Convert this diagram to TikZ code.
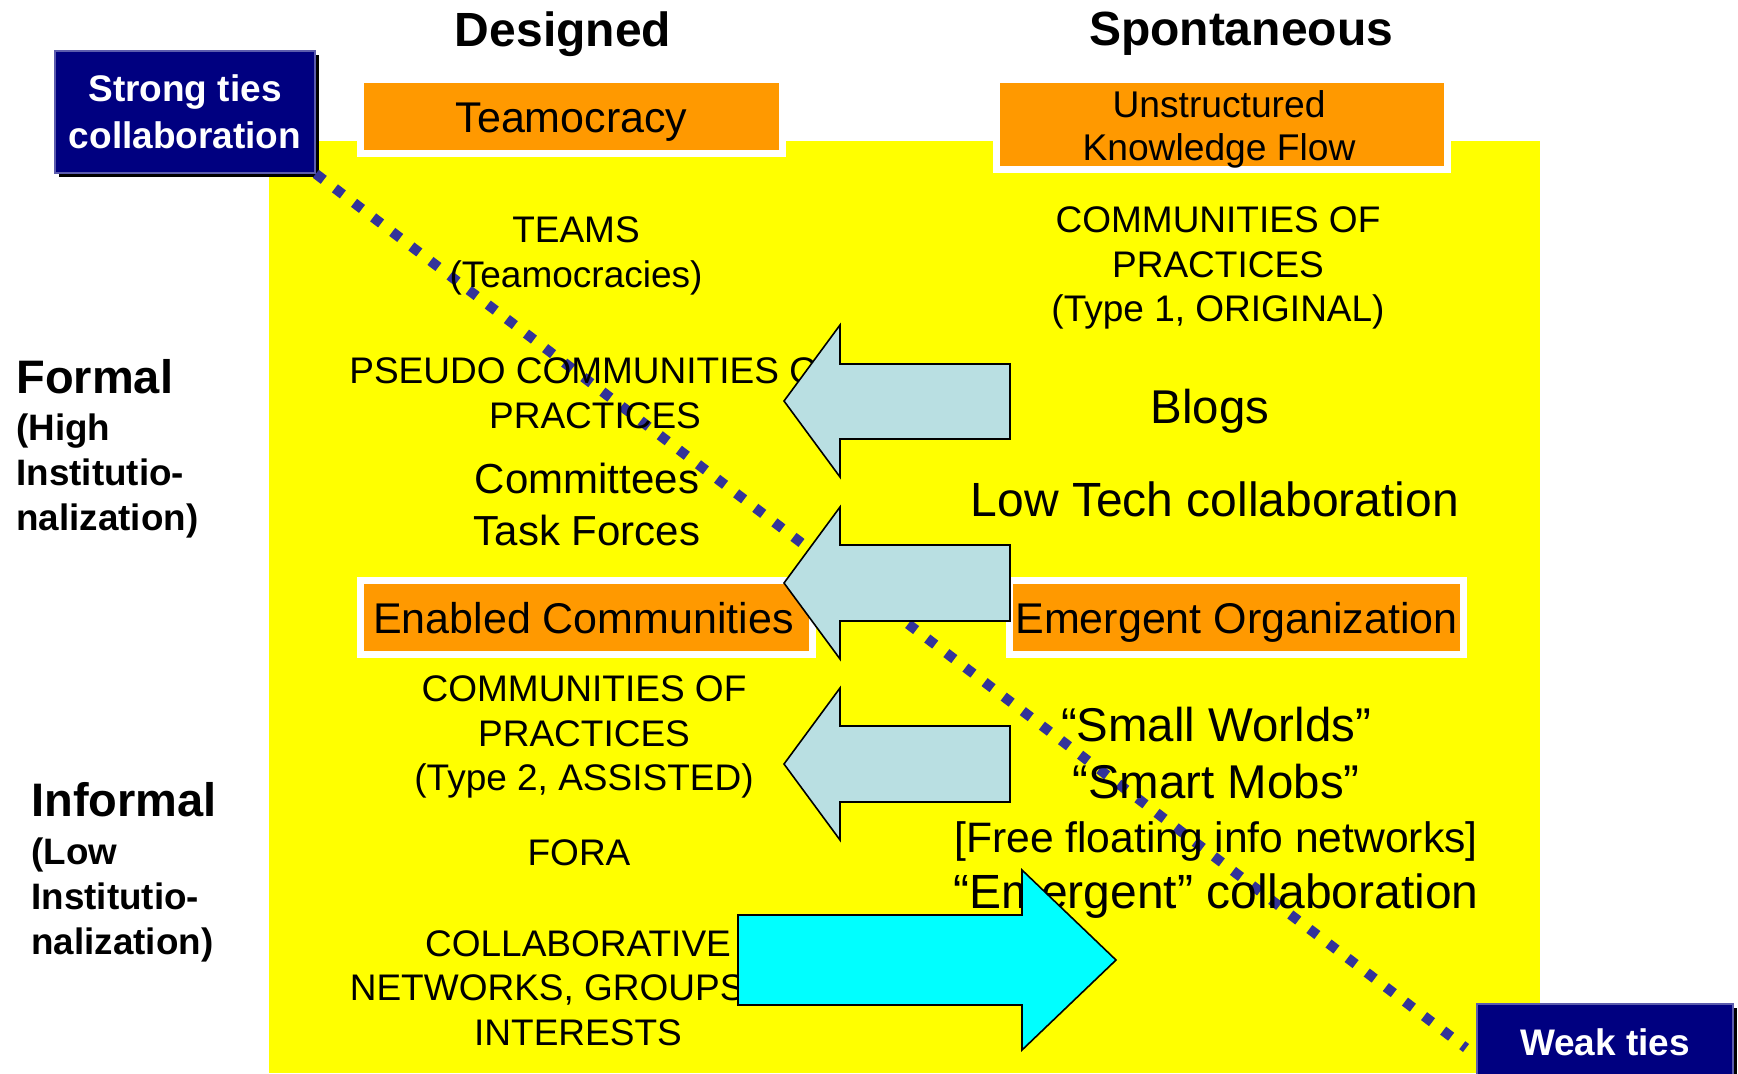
\documentclass[tikz,border=0pt]{standalone}
\usepackage{fontspec}
\setmainfont{Liberation Sans}
\usetikzlibrary{shadows}
\definecolor{bgyellow}{HTML}{FFFF00}
\definecolor{headorange}{HTML}{FF9900}
\definecolor{tiesnavy}{HTML}{000080}
\definecolor{tiesedge}{HTML}{5C5CAD}
\definecolor{dotblue}{HTML}{333399}
\definecolor{palearrow}{HTML}{B9DFE2}
\definecolor{cyanarrow}{HTML}{00FFFF}
\newcommand{\fsz}[2]{\fontsize{#1pt}{#2pt}\selectfont}
\begin{document}
\begin{tikzpicture}[x=0.5pt,y=-0.5pt,
  every node/.style={inner sep=0pt, align=center, text=black},
  capstext/.style={font=\fsz{18.5}{22.3}},
  midtext/.style={font=\fsz{21}{26}},
  headtext/.style={font=\fsz{21.5}{26}, text height=15.7pt, text depth=0pt},
  bigtext/.style={font=\fsz{23.7}{28}},
  coltitle/.style={font=\bfseries\fsz{24}{28}},
  sidetitle/.style={font=\bfseries\fsz{23.5}{28}, anchor=west, align=left},
  sidesub/.style={font=\bfseries\fsz{18.4}{22.4}, anchor=west, align=left},
  headbox/.style={fill=headorange, draw=white, line width=3.5pt},
  tiesbox/.style={fill=tiesnavy, draw=tiesedge, line width=0.8pt,
    text=white, font=\bfseries\fsz{18.5}{22.5},
    general shadow={fill=black, shadow xshift=1.8pt, shadow yshift=-1.8pt}},
  tieline/.style={draw=dotblue, line width=5pt, dash pattern=on 5pt off 7pt},
  blockarrow/.style={draw=black, line width=0.8pt, line join=miter}
]
\useasboundingbox (0,0) rectangle (1738,1073);
\clip (0,0) rectangle (1738,1073);

% field behind the two columns
\fill[bgyellow] (269,141) rectangle (1540,1073);

% column headings
\node[coltitle] (designed) at (563,34) {Designed};
\node[coltitle] (spont) at (1241,34) {Spontaneous};

% orange heading boxes
\node[headbox, minimum width=211pt, minimum height=37pt, headtext] (teamo) at (571.5,116.5) {Teamocracy};
\node[headbox, minimum width=225.5pt, minimum height=45pt] (unstr) at (1222,124.5) {};
\node[font=\fsz{18.6}{21.5}] (unstrtext) at (1219,129) {Unstructured\\Knowledge Flow};
\node[headbox, minimum width=226pt, minimum height=37pt, headtext] (enabled) at (586.5,617.5) {Enabled Communities\hspace{3pt}};
\node[headbox, minimum width=227pt, minimum height=37pt, headtext] (emergent) at (1236.5,617.5) {Emergent Organization};

% ties boxes
\node[tiesbox, minimum width=130pt, minimum height=61pt, font=\bfseries\fsz{18.5}{23.5}] (strong) at (185,112) {Strong ties\\collaboration};
\node[tiesbox, minimum width=128pt, minimum height=38pt] (weak) at (1605,1042) {Weak ties};
\coordinate (weakend) at (1466,1048);

% diagonal from strong ties to weak ties
\draw[tieline] (strong.south east) -- (weakend);

% left side labels
\node[sidetitle] (formal) at (16,377) {Formal};
\node[sidesub] (formalsub) at (16,476) {(High\\Institutio-\\nalization)};
\node[sidetitle] (informal) at (31,800) {Informal};
\node[sidesub] (informalsub) at (31,900) {(Low\\Institutio-\\nalization)};

% designed column
\node[capstext] (teams) at (576,256) {TEAMS\\(Teamocracies)};
\node[capstext] (pseudo) at (595,393) {PSEUDO COMMUNITIES OF\\PRACTICES};
\node[midtext] (committees) at (587,504) {Committees\\Task Forces};
\node[capstext] (cop2) at (584,737) {COMMUNITIES OF\\PRACTICES\\(Type 2, ASSISTED)};
\node[capstext] (fora) at (579,853) {FORA};
\node[capstext] (collab) at (578,988) {COLLABORATIVE\hspace{12pt}\\NETWORKS, GROUPS OF\\INTERESTS};

% spontaneous column
\node[capstext] (cop1) at (1218,268) {COMMUNITIES OF\\PRACTICES\\(Type 1, ORIGINAL)};
\node[bigtext] (blogs) at (1210,411) {Blogs};
\node[bigtext, font=\fsz{24}{28}] (lowtech) at (1215,499) {Low Tech collaboration};
\node[bigtext] (smallw) at (1216,725) {“Small Worlds”};
\node[bigtext] (smartm) at (1216,782) {“Smart Mobs”};
\node[midtext, font=\fsz{21.3}{26}] (freef) at (1216,841) {[Free floating info networks]};
\node[bigtext, font=\fsz{24}{28}] (emergc) at (1216,896) {“Emergent” collaboration};

% block arrows between the columns
\draw[blockarrow, fill=palearrow] (1010,364) -- (840,364) -- (840,325) -- (784,401)
  -- (840,477) -- (840,439) -- (1010,439) -- cycle;
\draw[blockarrow, fill=palearrow] (1010,545) -- (840,545) -- (840,507) -- (784,583)
  -- (840,659) -- (840,621) -- (1010,621) -- cycle;
\draw[blockarrow, fill=palearrow] (1010,726) -- (840,726) -- (840,688) -- (784,764)
  -- (840,840) -- (840,802) -- (1010,802) -- cycle;
\draw[blockarrow, fill=cyanarrow] (738,915) -- (1022,915) -- (1022,870) -- (1116,960)
  -- (1022,1050) -- (1022,1005) -- (738,1005) -- cycle;
\end{tikzpicture}
\end{document}
